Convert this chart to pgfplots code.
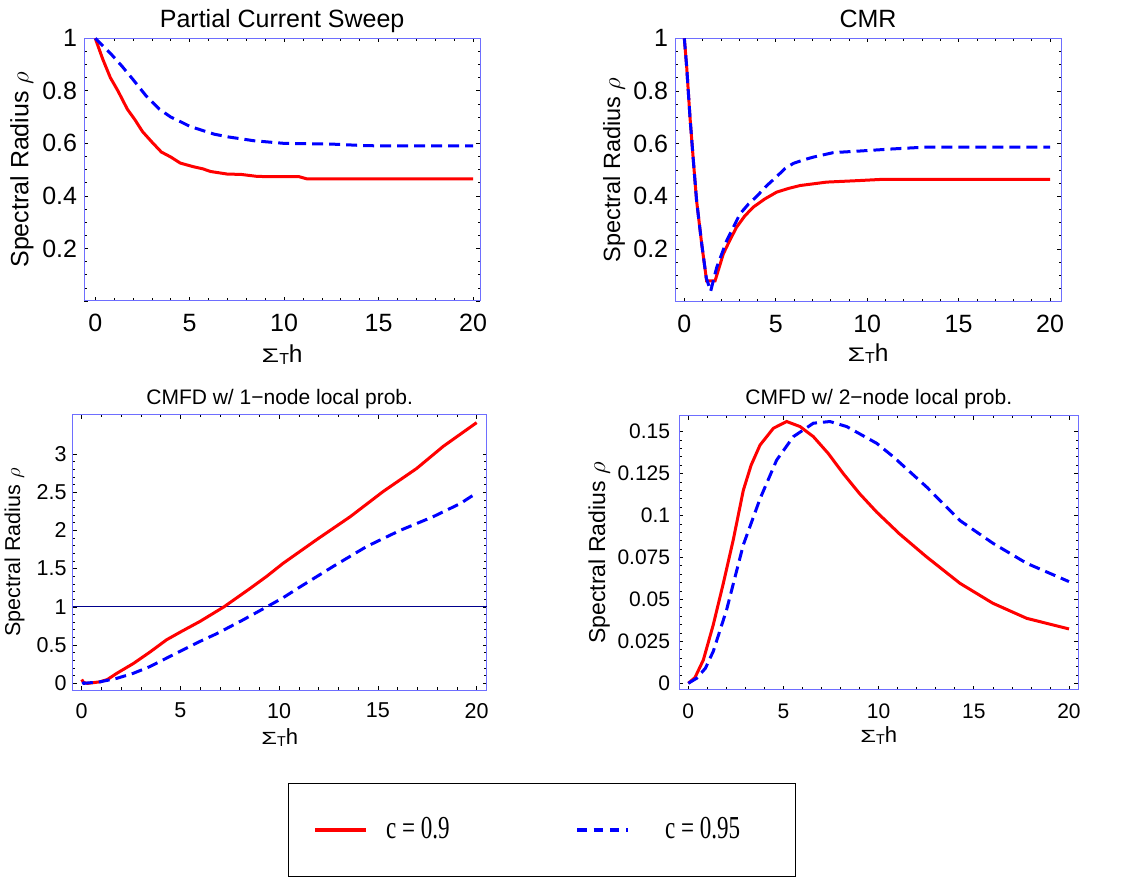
\documentclass[border=0pt]{standalone}
\usepackage{fontspec}
\setmainfont{Liberation Sans}
\newfontfamily\legfont[FakeStretch=0.72]{Liberation Serif}
\usepackage{pgfplots}
\pgfplotsset{compat=1.18}
\definecolor{framecol}{RGB}{110,110,255}
\definecolor{navyline}{RGB}{0,0,140}
\newcommand{\fs}[1]{\fontsize{#1bp}{#1bp}\selectfont}
\newcommand{\xlab}{\scalebox{1.16}[0.8]{Σ}\raisebox{-2bp}{\scalebox{0.65}{T}}h}
\pgfplotsset{
  myaxis/.style={
    scale only axis, anchor=south west, clip=false,
    axis line style={framecol, line width=1bp},
    tick style={black, line width=0.7bp},
    tick align=inside, major tick length=4bp, minor tick length=2.5bp,
    xtick={0,5,10,15,20}, xticklabels={0,5,10,15,20}, minor x tick num=4,
    /pgf/number format/assume math mode=true,
    every axis title/.style={at={(0.5,1)}, anchor=base, inner sep=0pt},
    every axis x label/.style={at={(0.5,0)}, anchor=base, inner sep=0pt},
    every axis y label/.style={rotate=90, anchor=base, inner sep=0pt},
    xticklabel style={inner sep=0pt, anchor=north},
    yticklabel style={inner sep=0pt, anchor=east},
    xlabel={\xlab}, ylabel={Spectral Radius $\rho$},
  },
  redl/.style={red, line width=3bp},
  bluel/.style={blue, line width=3bp, dash pattern=on 11bp off 6bp},
}
\begin{document}
\begin{tikzpicture}
\useasboundingbox (0,0) rectangle (1136bp,877bp);
% Panel 1
\begin{axis}[myaxis, at={(84.3bp,576bp)}, width=395.7bp, height=262.7bp,
  xmin=-0.58, xmax=20.37, ymin=0, ymax=1,
  ytick={0,0.2,0.4,0.6,0.8,1}, yticklabels={,0.2,0.4,0.6,0.8,1}, minor y tick num=3,
  title={Partial Current Sweep}, title style={yshift=11bp, font=\fs{25}},
  tick label style={font=\fs{25}},
  xticklabel style={yshift=-13bp}, yticklabel style={xshift=-7bp},
  xlabel style={yshift=-62bp, font=\fs{24.5}},
  ylabel style={at={(-0.1414,0.5)}, font=\fs{25}}]
\addplot[redl] coordinates {(0,1) (0.4,0.92) (0.8,0.85) (1.2,0.80) (1.7,0.73) (2.1,0.69) (2.5,0.645) (3.0,0.605) (3.5,0.567) (4.0,0.548) (4.5,0.525) (5.2,0.511) (5.7,0.503) (6.1,0.493) (7.0,0.483) (7.7,0.482) (8.6,0.474) (10.8,0.473) (11.2,0.465) (20,0.465)};
\addplot[bluel] coordinates {(0,1) (0.8,0.943) (1.4,0.895) (2.0,0.843) (2.7,0.78) (3.4,0.73) (4.0,0.70) (4.5,0.683) (5.0,0.665) (5.6,0.651) (6.3,0.635) (7.0,0.625) (8.4,0.61) (10.0,0.60) (12.6,0.597) (14.4,0.591) (20,0.59)};
\end{axis}
% Panel 2
\begin{axis}[myaxis, at={(675bp,575.3bp)}, width=386bp, height=263.4bp,
  xmin=-0.51, xmax=20.6, ymin=0, ymax=1,
  ytick={0,0.2,0.4,0.6,0.8,1}, yticklabels={,0.2,0.4,0.6,0.8,1}, minor y tick num=3,
  title={CMR}, title style={yshift=11bp, font=\fs{25}},
  tick label style={font=\fs{25}},
  xticklabel style={yshift=-13.3bp}, yticklabel style={xshift=-6.7bp},
  xlabel style={yshift=-60bp, font=\fs{24.5}},
  ylabel style={at={(-0.1425,0.5)}, font=\fs{23.5}}]
\addplot[redl] coordinates {(0,1) (0.13,0.89) (0.31,0.70) (0.5,0.53) (0.67,0.384) (0.95,0.219) (1.22,0.079) (1.68,0.079) (2.13,0.181) (2.5,0.235) (2.86,0.283) (3.3,0.325) (3.77,0.359) (4.4,0.39) (5.05,0.416) (5.7,0.43) (6.33,0.441) (7.78,0.454) (9.6,0.46) (10.7,0.464) (20,0.464)};
\addplot[bluel] coordinates {(0,1) (0.13,0.89) (0.31,0.70) (0.5,0.53) (0.67,0.384) (0.95,0.22) (1.2,0.09) (1.44,0.04) (1.77,0.13) (2.32,0.232) (3.04,0.333) (3.5,0.37) (3.96,0.40) (4.5,0.44) (5.05,0.475) (5.5,0.505) (5.96,0.525) (6.5,0.538) (7.06,0.549) (8.15,0.566) (9.6,0.572) (11.4,0.58) (13.25,0.587) (20,0.587)};
\end{axis}
% Panel 3
\begin{axis}[myaxis, at={(72.7bp,187bp)}, width=414bp, height=275bp,
  xmin=-0.456, xmax=20.51, ymin=-0.087, ymax=3.51,
  ytick={0,0.5,1,1.5,2,2.5,3}, yticklabels={0,0.5,1,1.5,2,2.5,3}, minor y tick num=4,
  title={CMFD w/ 1−node local prob.}, title style={yshift=10bp, font=\fs{21}},
  tick label style={font=\fs{21.5}},
  xticklabel style={yshift=-13bp}, yticklabel style={xshift=-6bp},
  xlabel style={yshift=-54bp, font=\fs{22}},
  ylabel style={at={(-0.127,0.5)}, font=\fs{21.5}},
  legend columns=2, legend cell align=left,
  legend style={at={(0.519,-0.338)}, anchor=north west, draw=black, line width=1.3bp,
    inner xsep=25bp, inner ysep=0bp, font=\legfont\fs{32},
    nodes={inner sep=0pt, text height=55bp, text depth=38bp},
    /tikz/every odd column/.append style={column sep=18bp},
    /tikz/every even column/.append style={column sep=0bp}}]
\addplot[navyline, line width=1bp, forget plot] coordinates {(-0.456,1) (20.51,1)};
\addplot[redl, legend image code/.code={\draw[red, line width=4bp] (0bp,0bp) -- (51bp,0bp);}] coordinates {(0,0.05) (0.1,0.01) (0.3,0.0) (0.93,0.02) (1.3,0.05) (1.77,0.13) (2.62,0.26) (3.46,0.41) (4.3,0.57) (5.06,0.68) (5.99,0.81) (7.2,1.0) (8.52,1.24) (9.37,1.40) (10.2,1.57) (11.9,1.88) (13.6,2.18) (15.27,2.51) (16.96,2.81) (18.31,3.10) (20,3.41)};
\addlegendentry{\makebox[189bp][l]{c = 0.9}}
\addplot[bluel, legend image code/.code={\draw[blue, line width=4bp, dash pattern=on 9.5bp off 6.8bp] (0bp,0bp) -- (51bp,0bp);}] coordinates {(0.05,0.02) (0.1,0.0) (0.93,0.02) (1.77,0.065) (2.6,0.13) (3.46,0.22) (4.3,0.33) (5.15,0.44) (6.0,0.55) (6.84,0.65) (8.1,0.82) (9.37,1.0) (10.2,1.12) (11.05,1.26) (12.74,1.53) (14.43,1.79) (16.12,2.0) (17.8,2.18) (19.16,2.35) (20,2.49)};
\addlegendentry{\makebox[122bp][l]{\hspace*{17bp}c = 0.95}}
\end{axis}
% Panel 4
\begin{axis}[myaxis, at={(679.3bp,187bp)}, width=399bp, height=274bp,
  xmin=-0.473, xmax=20.49, ymin=-0.004, ymax=0.1593,
  ytick={0,0.025,0.05,0.075,0.1,0.125,0.15}, yticklabels={0,0.025,0.05,0.075,0.1,0.125,0.15}, minor y tick num=4,
  title={CMFD w/ 2−node local prob.}, title style={yshift=11bp, font=\fs{21}},
  tick label style={font=\fs{21}},
  xticklabel style={yshift=-14bp}, yticklabel style={xshift=-9bp},
  xlabel style={yshift=-53bp, font=\fs{22}},
  ylabel style={at={(-0.186,0.5)}, font=\fs{23}}]
\addplot[redl] coordinates {(0,0) (0.35,0.0034) (0.79,0.0139) (1.31,0.0348) (1.84,0.0596) (2.36,0.0854) (2.89,0.115) (3.3,0.13) (3.77,0.142) (4.47,0.152) (5.17,0.156) (5.87,0.153) (6.57,0.147) (7.35,0.137) (8.14,0.125) (9.0,0.113) (9.9,0.102) (11.1,0.089) (12.5,0.0755) (14.27,0.0596) (16.0,0.0477) (17.78,0.0387) (20,0.0324)};
\addplot[bluel] coordinates {(0,0) (0.44,0.003) (0.9,0.009) (1.31,0.019) (2.01,0.0437) (2.89,0.0825) (3.77,0.11) (4.64,0.133) (5.52,0.147) (6.57,0.155) (7.44,0.156) (8.32,0.153) (9.9,0.143) (10.77,0.135) (12.52,0.117) (14.27,0.097) (16.0,0.0835) (17.78,0.0715) (20,0.0606)};
\end{axis}
\end{tikzpicture}
\end{document}
